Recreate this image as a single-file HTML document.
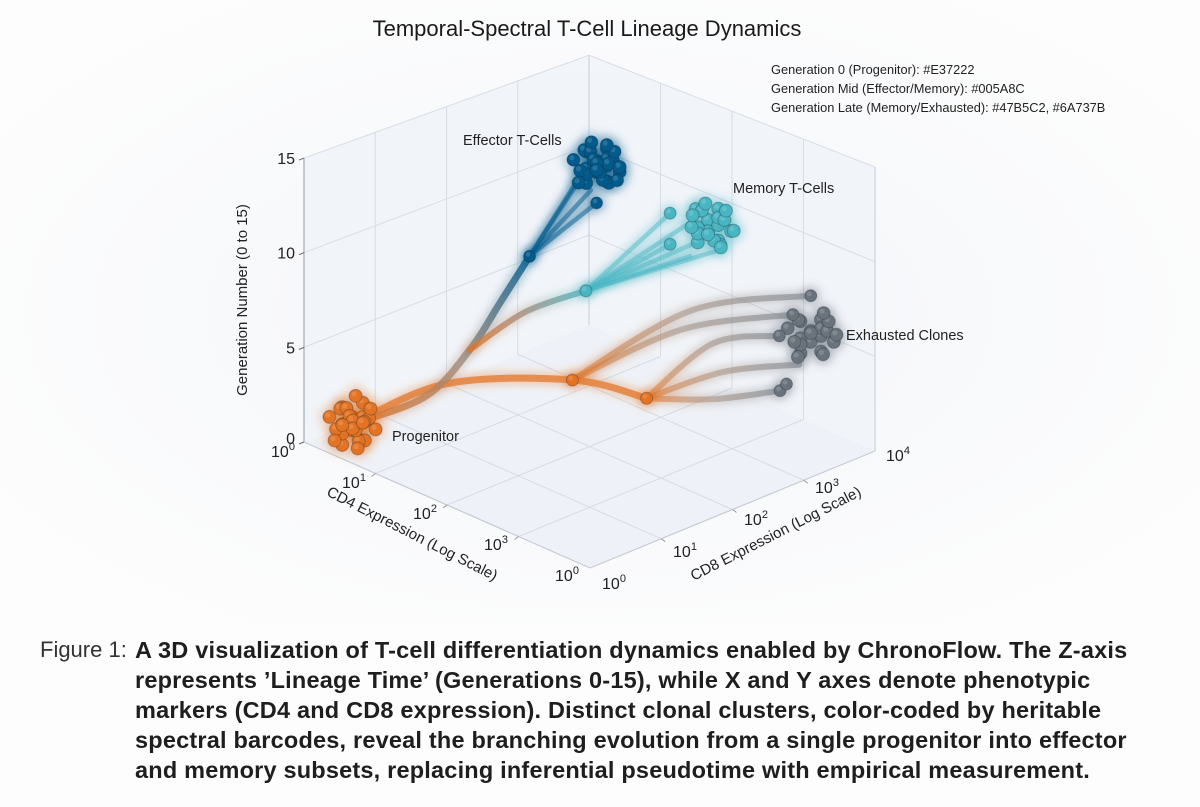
<!DOCTYPE html>
<html><head><meta charset="utf-8">
<style>
html,body{margin:0;padding:0;background:#fdfdfd;}
body{width:1200px;height:807px;position:relative;overflow:hidden;font-family:"Liberation Sans",sans-serif;color:#222;}
#chart{position:absolute;left:0;top:0;}
.cap{position:absolute;left:0;width:1200px;font-size:23.5px;letter-spacing:0.2px;white-space:nowrap;}
.cap div{position:absolute;left:135px;font-weight:bold;color:#1e1e1e;}
</style></head>
<body>
<svg id="chart" width="1200" height="625" viewBox="0 0 1200 625">
<defs>
<radialGradient id="bg" cx="50%" cy="50%" r="60%"><stop offset="0" stop-color="#f3f5f9"/><stop offset="1" stop-color="#fdfdfd"/></radialGradient>
<filter id="glow" x="-50%" y="-50%" width="200%" height="200%"><feGaussianBlur stdDeviation="4"/></filter>
</defs>
<rect x="0" y="0" width="1200" height="625" fill="url(#bg)"/>
<text x="587" y="36" text-anchor="middle" font-size="22" fill="#1a1a1a">Temporal-Spectral T-Cell Lineage Dynamics</text>
<g font-size="12.8" fill="#222">
<text x="771" y="74">Generation 0 (Progenitor): #E37222</text>
<text x="771" y="93">Generation Mid (Effector/Memory): #005A8C</text>
<text x="771" y="112">Generation Late (Memory/Exhausted): #47B5C2, #6A737B</text>
</g>
<g id="grid"></g>
<g id="axes"></g>
<g id="glows" filter="url(#glow)"></g>
<g id="strands"></g>
<g id="dots"></g>
<g id="labels" font-size="14.5" fill="#222"></g>
</svg>
<div class="cap" style="top:637px;">
<span style="position:absolute;left:40px;top:0;font-weight:normal;color:#333;font-size:22px;letter-spacing:0;">Figure 1:</span>
<div style="top:0">A 3D visualization of T-cell differentiation dynamics enabled by ChronoFlow. The Z-axis</div>
<div style="top:30px">represents ’Lineage Time’ (Generations 0-15), while X and Y axes denote phenotypic</div>
<div style="top:60px">markers (CD4 and CD8 expression). Distinct clonal clusters, color-coded by heritable</div>
<div style="top:90px">spectral barcodes, reveal the branching evolution from a single progenitor into effector</div>
<div style="top:120px">and memory subsets, replacing inferential pseudotime with empirical measurement.</div>
</div>
<script>
// ---- data ----
const zTicks = [0, 5, 10, 15];
const cd4Ticks = ["0", "1", "2", "3", "0"];
const cd8Ticks = ["0", "1", "2", "3", "4"];
const clusterNames = ["Progenitor", "Effector T-Cells", "Memory T-Cells", "Exhausted Clones"];
const clusterColors = ["#E37222", "#005A8C", "#47B5C2", "#6A737B"];
const clusterCenters = [[0.34,0.34,1.0],[1.77,2.33,14.0],[2.91,2.75,12.0],[3.55,3.55,6.0]];
const progenitorOffsets = [[0,0,0],[0.1,-0.1,0.8],[-0.1,0.1,-0.8],[0.15,0.05,0.3],[-0.15,-0.05,-0.2],[0.05,0.15,1.4],[-0.05,-0.15,-1.4],[0.2,0,-0.9],[-0.2,0,0.9],[0,0.2,0.2],[0,-0.2,-0.4],[0.12,0.12,-1.2],[-0.12,-0.12,1.1],[0.22,0.1,0.6],[-0.22,-0.1,-0.6],[0.08,-0.2,1.6],[-0.08,0.2,-1.7],[0.18,-0.12,0],[-0.18,0.12,0.1],[0.05,0.05,-1.8],[0.25,0.2,-0.3],[-0.25,-0.2,0.4],[0.1,0.25,0.9],[-0.1,-0.25,-1],[0.28,-0.05,0.7],[-0.02,0.08,1.9],[0.05,-0.05,0.4],[-0.05,0.05,-0.5],[0.1,0.1,0.1],[-0.1,-0.1,-0.1]];
const effectorOffsets = [[0,0,0],[0.1,-0.1,0.7],[-0.1,0.1,-0.7],[0.15,0.05,0.2],[-0.15,-0.05,-0.3],[0.05,0.15,1.2],[-0.05,-0.15,-1.1],[0.2,0,-0.8],[-0.2,0,0.8],[0,0.2,0.3],[0,-0.2,-0.3],[0.12,0.12,-1.2],[-0.12,-0.12,1.2],[0.22,0.1,0.6],[-0.22,-0.1,-0.5],[0.08,-0.2,1.5],[-0.08,0.2,-1.4],[0.18,-0.12,0],[-0.18,0.12,0.1],[0.25,0.2,-0.3],[-0.25,-0.2,0.4],[0.1,0.25,0.9],[-0.1,-0.25,-1],[0.28,-0.05,0.7],[0.1,0.1,1.6],[-0.15,0.05,1.5],[0.3,0.15,0.2],[0.2,0.2,-1.0],[0.05,-0.05,0.4],[-0.05,0.05,-0.4]];
const memoryOffsets = [[0,0,0],[0.1,-0.1,0.7],[-0.1,0.1,-0.7],[0.15,0.05,0.2],[-0.15,-0.05,-0.3],[0.05,0.15,1.1],[-0.05,-0.15,-1.1],[0.2,0,-0.8],[-0.2,0,0.8],[0,0.2,0.3],[0,-0.2,-0.3],[0.12,0.12,-1.4],[-0.12,-0.12,1.2],[0.22,0.1,0.6],[-0.22,-0.1,-0.3],[0.08,-0.2,1.5],[-0.08,0.2,-1.5],[0.25,0.2,-0.3],[-0.2,-0.1,0.6],[0.1,0.25,0.9],[0.3,0.2,-0.2],[-0.1,0.05,1.4],[0.05,0.2,-1.8],[0.05,-0.05,-0.5]];
const exhaustedOffsets = [[0,0,0],[0.1,-0.1,0.7],[-0.1,0.1,-0.7],[0.15,0.05,0.2],[-0.15,-0.05,-0.3],[0.05,0.15,1.1],[-0.05,-0.15,-1.1],[0.2,0,-0.8],[-0.2,0,0.8],[0,0.2,0.3],[0,-0.2,-0.3],[0.12,0.12,-1.3],[-0.12,-0.12,1.2],[0.22,0.1,0.6],[-0.22,-0.1,-0.6],[0.25,0.2,-0.3],[-0.25,-0.2,0.5],[0.1,0.25,0.9],[0.3,0.2,0.3],[-0.15,-0.1,-1.6],[0.15,0.1,1.8],[0.05,-0.05,0.4]];
const branchDots = [[1.58,1.58,10],[1.9,2.05,8],[1.88,1.88,3.5],[2.37,2.43,2.5]];
const trunkEffector = [[0.34,0.34,1],[0.85,0.85,2.5],[1.16,1.16,5],[1.38,1.38,7.6],[1.58,1.58,10]];
const trunkMemory = [[1.16,1.16,5],[1.5,1.6,6.9],[1.9,2.05,8]];
const trunkExhausted = [[0.34,0.34,1],[1.0,1.0,3.2],[1.88,1.88,3.5],[2.37,2.43,2.5]];
const effectorEnds = [[1.62,2.25,13.2],[1.72,2.3,12.7],[1.75,2.35,12.0],[1.68,2.2,13.6]];
const memoryEnds = [[2.43,2.7,12.0],[2.48,2.65,10.5],[2.79,2.76,11.0],[2.66,2.75,10.0],[2.91,2.85,10.5],[2.6,2.8,11.6]];
const exhaustedEndsA = [[3.5,3.6,8.0],[3.38,3.47,7.0]];
const exhaustedEndsB = [[3.33,3.33,6.0],[3.47,3.47,4.5],[3.3,3.37,3.0]];

// ---- projection ----
const NS = "http://www.w3.org/2000/svg";
const zUnit = 18.93;
const spread = 0.72;
function zf(u,v){ return zUnit*(1-0.0125*(v-u)); }
function P(u,v,z){ return [304 + u*71.5 + v*71.25, 442 + u*31.5 - v*29.25 - z*zf(u,v)]; }
function mk(tag, attrs, parent){ const e=document.createElementNS(NS,tag); for(const k in attrs) e.setAttribute(k,attrs[k]); parent.appendChild(e); return e; }
function line(a,b,st,w,parent){ return mk("line",{x1:a[0],y1:a[1],x2:b[0],y2:b[1],stroke:st,"stroke-width":w},parent); }
function smooth(pts3){
  const p = pts3.map(q=>P(q[0],q[1],q[2]));
  let d = "M"+p[0][0]+","+p[0][1];
  for(let i=0;i<p.length-1;i++){
    const p0=p[i-1]||p[i], p1=p[i], p2=p[i+1], p3=p[i+2]||p2;
    const c1=[p1[0]+(p2[0]-p0[0])/6, p1[1]+(p2[1]-p0[1])/6];
    const c2=[p2[0]-(p3[0]-p1[0])/6, p2[1]-(p3[1]-p1[1])/6];
    d += " C"+c1+" "+c2+" "+p2;
  }
  return {d:d, start:p[0], end:p[p.length-1]};
}

// ---- walls & grid ----
const grid = document.getElementById("grid");
const L=P(0,0,0), B=P(0,4,0), R=P(4,4,0), F=P(4,0,0);
const LT=P(0,0,15), BT=P(0,4,15), RT=P(4,4,15);
mk("polygon",{points:[L,B,BT,LT].join(" "),fill:"#f0f3f8","fill-opacity":0.85},grid);
mk("polygon",{points:[B,R,RT,BT].join(" "),fill:"#f0f3f8","fill-opacity":0.85},grid);
mk("polygon",{points:[L,B,R,F].join(" "),fill:"#eef1f7"},grid);
for(let i=1;i<4;i++){
  line(P(0,i,0),P(0,i,15),"#d8dce4",1,grid);
  line(P(i,4,0),P(i,4,15),"#d8dce4",1,grid);
  line(P(0,i,0),P(4,i,0),"#d6dbe3",1,grid);
  line(P(i,0,0),P(i,4,0),"#d6dbe3",1,grid);
}
zTicks.forEach(z=>{ if(z>0){ line(P(0,0,z),P(0,4,z),"#d8dce4",1,grid); line(P(0,4,z),P(4,4,z),"#d8dce4",1,grid);} });
line(B,BT,"#cfd4dd",1.2,grid);

// ---- axes ----
const axes = document.getElementById("axes");
line(LT,L,"#a5abb4",1.2,axes);
line(RT,R,"#c6cbd4",1,axes);
line(L,F,"#c6cbd4",1.2,axes); line(F,R,"#c6cbd4",1.2,axes);
zTicks.forEach(z=>{
  const p=P(0,0,z);
  line([p[0]-5,p[1]+2],p,"#666",1,axes);
  const t=mk("text",{x:p[0]-9,y:p[1]+6+(z===0?-4:0),"text-anchor":"end","font-size":16,fill:"#222"},axes); t.textContent=z;
  
  
});
function tickLabel(x,y,exp,parent,name){
  const t=mk("text",{x:x,y:y,"text-anchor":"middle","font-size":16,fill:"#222"},parent);
  
  
  const a=document.createElementNS(NS,"tspan"); a.textContent="10"; t.appendChild(a);
  const b=document.createElementNS(NS,"tspan"); b.setAttribute("dy","-7"); b.setAttribute("font-size","11"); b.textContent=exp; t.appendChild(b);
}
cd4Ticks.forEach((e,i)=>tickLabel(283+71*i,457+31*i,e,axes,'cd4-tick-label'));
cd8Ticks.forEach((e,i)=>tickLabel(614+71*i,589-32*i,e,axes,'cd8-tick-label'));
for(let i=1;i<4;i++){ const a=P(i,0,0); line(a,[a[0]-4,a[1]+3],"#999",1,axes); const b=P(4,i,0); line(b,[b[0]+4,b[1]+3],"#999",1,axes); }
let t;
t=mk("text",{x:0,y:0,transform:"translate(410,538) rotate(27)","text-anchor":"middle","font-size":15,fill:"#222"},axes); t.textContent="CD4 Expression (Log Scale)";


t=mk("text",{x:0,y:0,transform:"translate(778,538) rotate(-27)","text-anchor":"middle","font-size":15,fill:"#222"},axes); t.textContent="CD8 Expression (Log Scale)";


t=mk("text",{x:0,y:0,transform:"translate(247,300) rotate(-90)","text-anchor":"middle","font-size":15,fill:"#222"},axes); t.textContent="Generation Number (0 to 15)";



// ---- strands ----
const defs = document.querySelector("defs");
const strands = document.getElementById("strands"), glows=document.getElementById("glows");
let gid=0;
function strand(pts, c1, c2, w, op, name){
  const s=smooth(pts);
  const id="g"+(gid++);
  const g=mk("linearGradient",{id:id,gradientUnits:"userSpaceOnUse",x1:s.start[0],y1:s.start[1],x2:s.end[0],y2:s.end[1]},defs);
  mk("stop",{offset:0,"stop-color":c1},g); mk("stop",{offset:0.5,"stop-color":c1===c2?c1:"#a08a7a"},g); mk("stop",{offset:1,"stop-color":c2},g);
  mk("path",{d:s.d,fill:"none",stroke:"url(#"+id+")","stroke-width":w+6,"stroke-opacity":0.3,"stroke-linecap":"round"},glows);
  const p=mk("path",{d:s.d,fill:"none",stroke:"url(#"+id+")","stroke-width":w,"stroke-opacity":op,"stroke-linecap":"round"},strands);
  
  
}
const C=clusterColors;
strand(trunkExhausted,C[0],C[0],7,0.7,'trunk-exhausted');
strand(trunkEffector,C[0],C[1],7,0.8,'trunk-effector');
strand(trunkMemory,C[0],C[2],6,0.75,'trunk-memory');
effectorEnds.forEach(e=>strand([branchDots[0],[(branchDots[0][0]+e[0])/2,(branchDots[0][1]+e[1])/2,(branchDots[0][2]+e[2])/2],e],C[1],C[1],4.5,0.5,'effector-strand'));
memoryEnds.forEach(e=>strand([branchDots[1],e],C[2],C[2],4.5,0.45,'memory-strand'));
exhaustedEndsA.forEach(e=>strand([branchDots[2],[(branchDots[2][0]+e[0])/2,(branchDots[2][1]+e[1])/2,e[2]-0.8],e],C[0],C[3],6,0.5,'exhausted-strand'));
exhaustedEndsB.forEach(e=>strand([branchDots[3],[(branchDots[3][0]+e[0])/2,(branchDots[3][1]+e[1])/2,e[2]-0.5],e],C[0],C[3],6,0.5,'exhausted-strand'));

// ---- dots ----
const dots=document.getElementById("dots");
function dot(q,color,r,name){
  const p=P(q[0],q[1],q[2]);
  mk("circle",{cx:p[0],cy:p[1],r:r+5,fill:color,opacity:0.22},glows);
  const c=mk("circle",{cx:p[0],cy:p[1],r:r,fill:color,stroke:"#1b2630","stroke-opacity":0.3,"stroke-width":1},dots);
  
  
  mk("circle",{cx:p[0]-r*0.25,cy:p[1]-r*0.3,r:r*0.4,fill:"#fff",opacity:0.15},dots);
}
const allOffsets=[progenitorOffsets,effectorOffsets,memoryOffsets,exhaustedOffsets];
const clusterKeys=["progenitor","effector","memory","exhausted"];
allOffsets.forEach((offs,k)=>{
  const c=clusterCenters[k];
  offs.forEach(o=>dot([c[0]+o[0]*spread,c[1]+o[1]*spread,c[2]+o[2]*spread],C[k],6.5,clusterKeys[k]+'-cell'));
});
dot(effectorEnds[2],C[1],6,'effector-cell');
dot(memoryEnds[0],C[2],6,'memory-cell');
dot(memoryEnds[1],C[2],6,'memory-cell');
exhaustedEndsA.forEach(e=>dot(e,C[3],6,'exhausted-cell'));
dot(exhaustedEndsB[2],C[3],6,'exhausted-cell');
dot([3.36,3.4,3.4],C[3],6,'exhausted-cell');
dot(exhaustedEndsB[0],C[3],6,'exhausted-cell');
branchDots.forEach((b,i)=>dot(b,[C[1],C[2],C[0],C[0]][i],6,'branch-node'));

// ---- labels ----
const labels=document.getElementById("labels");
const labelPos=[[392,441],[463,145],[733,193],[846,340]];
clusterNames.forEach((n,i)=>{
  const t=mk("text",{x:labelPos[i][0],y:labelPos[i][1]},labels); t.textContent=n;
  
  
});
</script>
</body></html>
